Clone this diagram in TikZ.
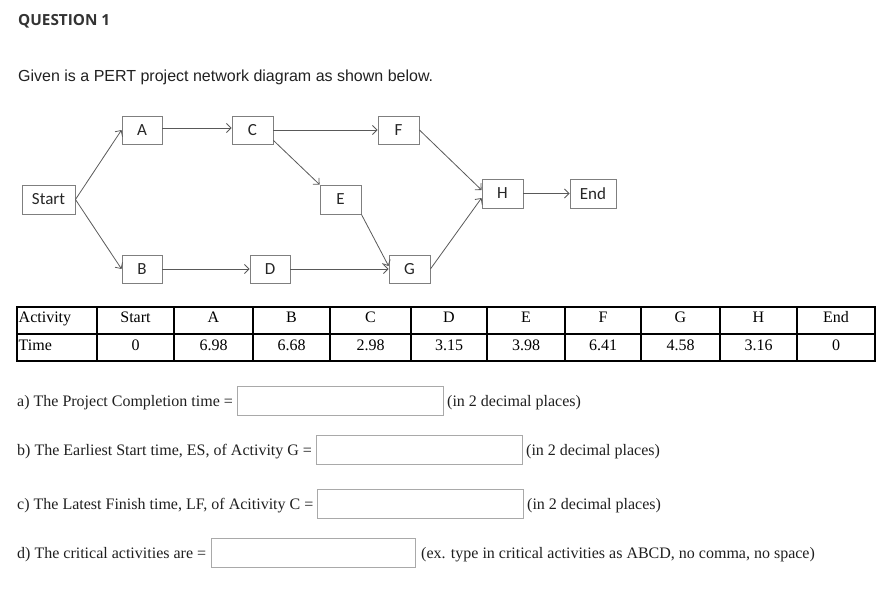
\documentclass[tikz,border=0pt]{standalone}
\usepackage{fontspec}
\setmainfont{Liberation Serif}
\newfontfamily\calfont{Carlito}
\newfontfamily\arialfont{Liberation Sans}
\newfontfamily\osfont{Open Sans}
\usetikzlibrary{arrows.meta}
\definecolor{boxgray}{HTML}{7F7F7F}
\definecolor{linegray}{HTML}{595959}
\definecolor{ingray}{HTML}{A9A9A9}
\definecolor{titlegray}{HTML}{333333}
\begin{document}
\begin{tikzpicture}[x=1pt,y=-1pt,
  nbox/.style={draw=boxgray, line width=0.9pt, inner sep=0pt, minimum height=28pt, minimum width=40pt,
    font=\calfont\fontsize{17}{20}\selectfont, text=black!85},
  conn/.style={draw=linegray, line width=0.8pt, -{Straight Barb[length=4.5pt,width=9pt]}},
  tab/.style={draw=black, line width=1.6pt},
  cell/.style={anchor=base, inner sep=0pt, font=\fontsize{16}{19}\selectfont},
  inbox/.style={draw=ingray, line width=0.9pt, inner sep=0pt, anchor=north west, minimum height=29pt},
  qtext/.style={anchor=base west, inner sep=0pt, font=\fontsize{16}{19}\selectfont, text=black!88}
]
\useasboundingbox (0,0) rectangle (889,594);

% titles
\node[anchor=base west, inner sep=0pt, font=\osfont\bfseries\fontsize{15.3}{18}\selectfont, text=titlegray] (title) at (18,25.5) {QUESTION 1};
\node[anchor=base west, inner sep=0pt, font=\arialfont\fontsize{16}{19}\selectfont, text=black!87] (given) at (18,81.5) {Given is a PERT project network diagram as shown below.};

% network nodes
\node[nbox, minimum width=53pt, minimum height=29pt] (start) at (48.5,199.5) {Start};
\node[nbox] (A) at (142,130) {A};
\node[nbox, minimum width=41pt] (C) at (252.5,130) {C};
\node[nbox] (B) at (142,269) {B};
\node[nbox] (D) at (270,269) {D};
\node[nbox, minimum width=41pt, minimum height=29pt] (E) at (340.5,199.5) {E};
\node[nbox, minimum width=41pt] (F) at (398.5,130) {F};
\node[nbox, minimum width=41pt] (G) at (409.5,269) {G};
\node[nbox, minimum width=41pt, minimum height=29pt] (H) at (502.5,193.5) {H};
\node[nbox, minimum width=46pt, minimum height=29pt] (End) at (593,193.5) {End};

% connectors
\draw[conn] (start.east) -- (A.west);
\draw[conn] (start.east) -- (B.west);
\draw[conn] ([yshift=2pt]A.east) -- ([yshift=2pt]C.west);
\draw[conn] (C.east) -- (F.west);
\draw[conn] ([yshift=4pt]C.south east) -- (E.north west);
\draw[conn] (B.east) -- (D.west);
\draw[conn] (D.east) -- (G.west);
\draw[conn] (E.south east) -- ([yshift=3pt]G.west);
\draw[conn] (F.east) -- ([yshift=3.5pt]H.west);
\draw[conn] (G.east) -- ([yshift=-4.5pt]H.west);
\draw[conn] (H.east) -- (End.west);

% table
\foreach \x in {17,97,174,253,330,411,487,565,641,720,797,875}
  \draw[tab] (\x,307) -- (\x,361);
\draw[tab] (16.2,307) -- (875.8,307);
\draw[tab] (16.2,334) -- (875.8,334);
\draw[tab] (16.2,361) -- (875.8,361);
\node[cell, anchor=base west] (act) at (18.5,322) {Activity};
\node[cell, anchor=base west] (tim) at (18.5,350) {Time};
\foreach \x/\h/\t [count=\i] in {135.5/Start/0, 213.5/A/6.98, 291.5/B/6.68, 370.5/C/2.98, 449/D/3.15,
    526/E/3.98, 603/F/6.41, 680.5/G/4.58, 758.5/H/3.16, 836/End/0} {
  \node[cell] (h\i) at (\x,322) {\h};
  \node[cell] (t\i) at (\x,350) {\t};
}

% questions
\node[qtext] (qa) at (17,406) {a) The Project Completion time =};
\node[inbox, minimum width=206pt] (ina) at (237,386) {};
\node[qtext] (pa) at (447,406) {(in 2 decimal places)};

\node[qtext] (qb) at (17,455) {b) The Earliest Start time, ES, of Activity G =};
\node[inbox, minimum width=206pt] (inb) at (316,435) {};
\node[qtext] (pb) at (526,455) {(in 2 decimal places)};

\node[qtext] (qc) at (17,509) {c) The Latest Finish time, LF, of Acitivity C =};
\node[inbox, minimum width=206pt] (inc) at (317,489) {};
\node[qtext] (pc) at (527,509) {(in 2 decimal places)};

\node[qtext] (qd) at (17,558) {d) The critical activities are =};
\node[inbox, minimum width=204pt] (ind) at (211,538) {};
\node[qtext] (pd) at (421,558) {(ex. type in critical activities as ABCD, no comma, no space)};
\end{tikzpicture}
\end{document}
